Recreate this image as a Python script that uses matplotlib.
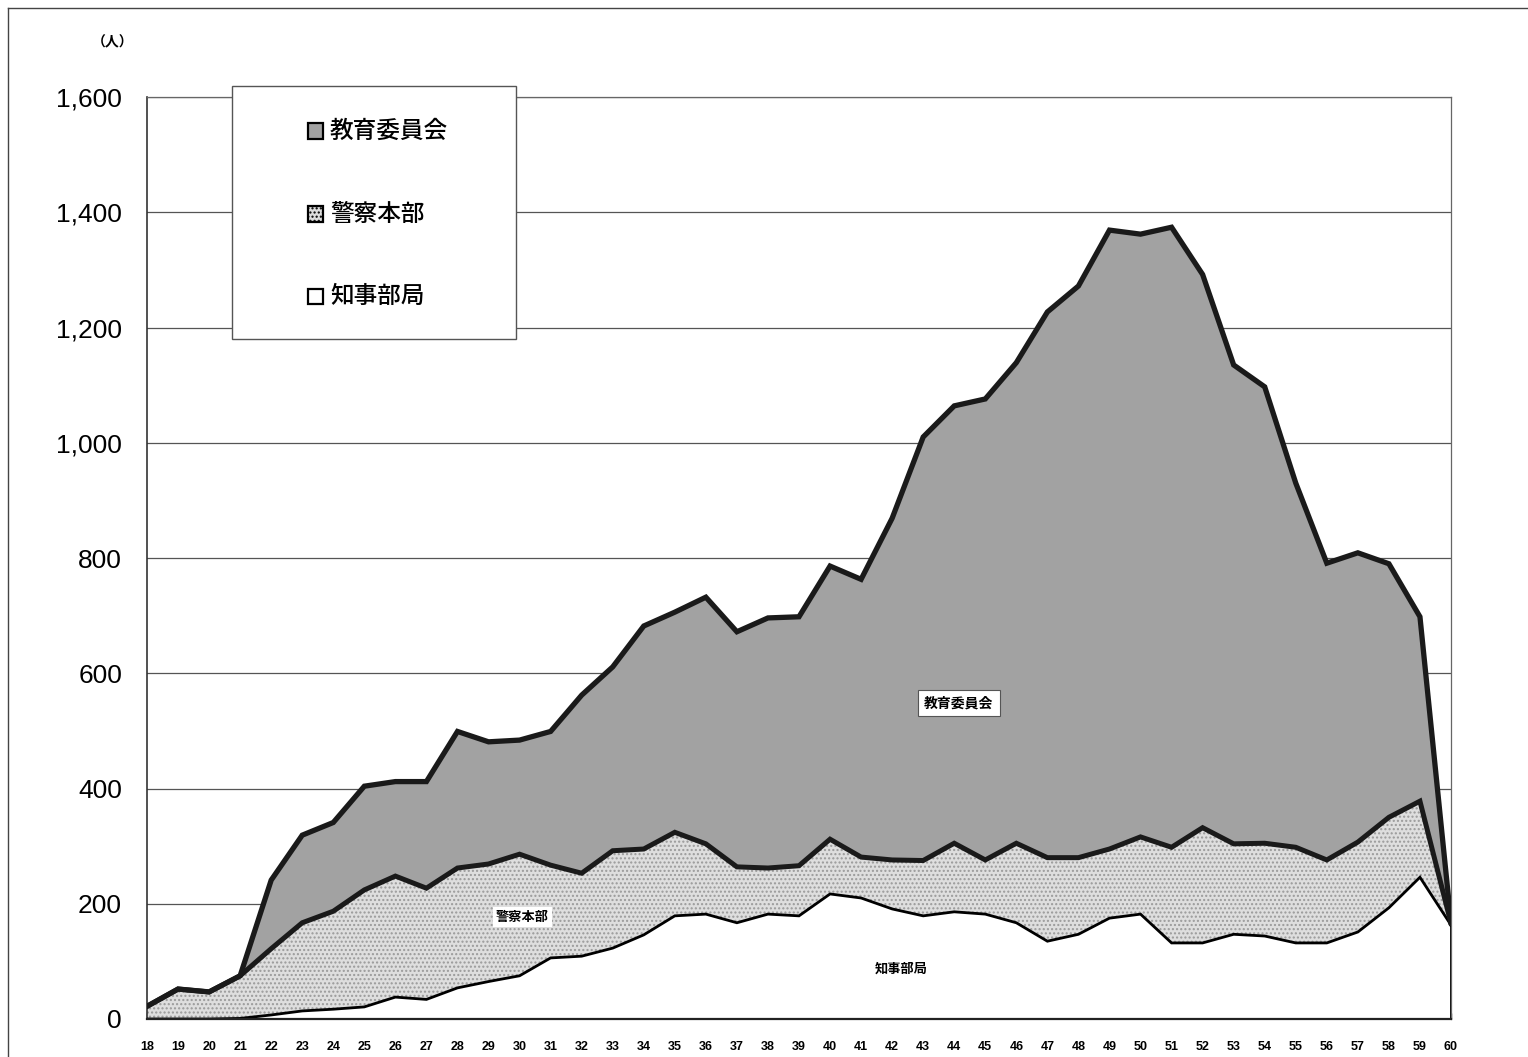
import numpy as np
import matplotlib
matplotlib.use("Agg")
import matplotlib.pyplot as plt
from matplotlib.patches import Rectangle
from matplotlib.lines import Line2D
from matplotlib import font_manager

# ---- data -------------------------------------------------------------
ages = list(range(18, 61))
series_names = ["教育委員会", "警察本部", "知事部局"]

governor = [0, 0, 0, 1, 7, 14, 17, 21, 38, 34, 54, 65, 75, 106, 109, 123, 146,
            179, 182, 167, 182, 179, 217, 210, 191, 179, 186, 182, 167, 135,
            147, 175, 182, 132, 132, 147, 144, 132, 132, 151, 193, 246, 163]
police = [22, 52, 47, 74, 115, 153, 170, 203, 210, 193, 208, 204, 211, 161,
          144, 169, 149, 145, 122, 97, 80, 87, 95, 71, 85, 96, 119, 94, 138,
          145, 133, 120, 134, 166, 200, 157, 161, 166, 144, 156, 157, 132, 3]
education = [0, 0, 0, 0, 119, 152, 154, 180, 164, 185, 237, 212, 198, 232,
             309, 319, 387, 382, 428, 408, 434, 432, 474, 482, 593, 735, 759,
             800, 834, 947, 992, 1074, 1046, 1076, 960, 831, 792, 632, 515,
             502, 440, 320, 2]

y_ticks = [0, 200, 400, 600, 800, 1000, 1200, 1400, 1600]
y_tick_labels = ["0", "200", "400", "600", "800", "1,000", "1,200", "1,400", "1,600"]
unit_label = "（人）"

# ---- fonts ------------------------------------------------------------
available = {f.name for f in font_manager.fontManager.ttflist}
num_font = "Liberation Sans Narrow" if "Liberation Sans Narrow" in available else "Liberation Sans"
jp_font = ["Noto Sans CJK JP", "DejaVu Sans"]
plt.rcParams["font.family"] = jp_font

# ---- figure -----------------------------------------------------------
W, H = 1528, 1057
fig = plt.figure(figsize=(W / 100, H / 100), dpi=100)
fig.patch.set_facecolor("white")
ax = fig.add_axes([147 / W, 1 - 1019 / H, (1451 - 147) / W, (1019 - 97) / H])

x = np.array(ages, dtype=float)
g = np.array(governor, dtype=float)
p = g + np.array(police, dtype=float)
t = p + np.array(education, dtype=float)

edu_color = "#a2a2a2"
pol_color = "#dedede"

ax.fill_between(x, 0, g, facecolor="white", edgecolor="none", zorder=2)
ax.fill_between(x, g, p, facecolor=pol_color, edgecolor="#9a9a9a",
                hatch="....", linewidth=0, zorder=2)
ax.fill_between(x, p, t, facecolor=edu_color, edgecolor="none", zorder=2)

ax.plot(x, g, color="black", lw=2.0, zorder=4, solid_joinstyle="miter")
ax.plot(x, p, color="#1a1a1a", lw=3.6, zorder=5, solid_joinstyle="miter")
ax.plot(x, t, color="#1a1a1a", lw=3.8, zorder=6, solid_joinstyle="miter")
ax.plot([x[-1], x[-1]], [0, g[-1]], color="black", lw=2.0, zorder=4)

ax.set_xlim(ages[0], ages[-1])
ax.set_ylim(0, 1600)
ax.set_yticks(y_ticks)
ax.set_yticklabels(y_tick_labels, fontfamily=num_font, fontsize=19)
ax.set_xticks(ages)
ax.set_xticklabels([str(a) for a in ages], fontfamily=num_font,
                   fontsize=9, fontweight="bold")
ax.tick_params(axis="y", length=0, pad=18)
ax.tick_params(axis="x", direction="in", length=4, width=1, pad=16,
               color="#333333")
ax.grid(axis="y", color="#555555", lw=0.9, zorder=1)
ax.set_axisbelow(True)
for side in ("top", "right"):
    ax.spines[side].set_color("#666666")
    ax.spines[side].set_linewidth(0.9)
ax.spines["left"].set_color("#333333")
ax.spines["left"].set_linewidth(1.2)
ax.spines["bottom"].set_color("#222222")
ax.spines["bottom"].set_linewidth(1.6)
ax.spines["bottom"].set_zorder(7)

# unit label
fig.text(113 / W, 1 - 42 / H, unit_label, fontsize=10, ha="center",
         va="center", fontweight="bold")

# in-chart labels
ax.text(44.15, 548, series_names[0], fontsize=10, fontweight="bold",
        ha="center", va="center", zorder=8,
        bbox=dict(boxstyle="square,pad=0.45", facecolor="white",
                  edgecolor="#555555", linewidth=0.8))
ax.text(30.1, 177, series_names[1], fontsize=9.5, fontweight="bold",
        ha="center", va="center", zorder=8,
        bbox=dict(boxstyle="square,pad=0.25", facecolor="white",
                  edgecolor="none"))
ax.text(42.3, 87, series_names[2], fontsize=9.5, fontweight="bold",
        ha="center", va="center", zorder=8)

# legend box
lx0, lx1, ly0, ly1 = 232, 516, 86, 339
fig.add_artist(Rectangle((lx0 / W, 1 - ly1 / H), (lx1 - lx0) / W,
                         (ly1 - ly0) / H, transform=fig.transFigure,
                         facecolor="white", edgecolor="#555555", lw=1.0,
                         zorder=10))
legend_rows = [131, 214, 296]
legend_faces = [edu_color, pol_color, "white"]
legend_hatch = [None, "....", None]
for name, yy, fc, hh in zip(series_names, legend_rows, legend_faces, legend_hatch):
    sq = 15
    fig.add_artist(Rectangle((308 / W, 1 - (yy + sq / 2) / H), sq / W, sq / H,
                             transform=fig.transFigure, facecolor=fc,
                             edgecolor="black", lw=1.6, hatch=hh, zorder=11))
    fig.text(330 / W, 1 - yy / H, name, fontsize=17, ha="left", va="center",
             fontweight="medium", zorder=12)

# page frame
fig.add_artist(Line2D([8 / W, 8 / W], [0, 1 - 8 / H], transform=fig.transFigure,
                      color="#444444", lw=1.0))
fig.add_artist(Line2D([8 / W, 1], [1 - 8 / H, 1 - 8 / H],
                      transform=fig.transFigure, color="#444444", lw=1.0))

fig.savefig("out.png", dpi=100, facecolor="white")
